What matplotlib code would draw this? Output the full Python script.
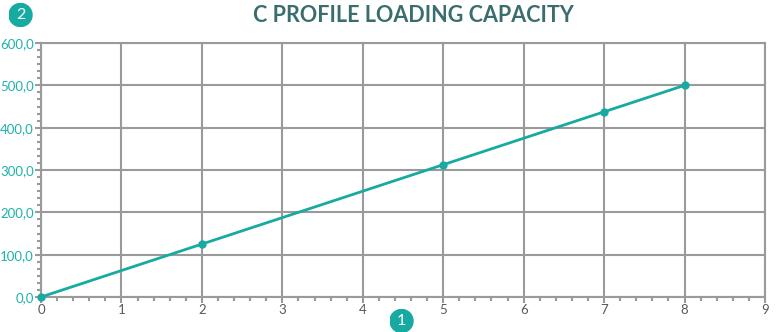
import matplotlib
matplotlib.use("Agg")
import matplotlib.pyplot as plt
from matplotlib.ticker import MultipleLocator, AutoMinorLocator, FuncFormatter

x_vals = [0, 2, 5, 7, 8]
y_vals = [0, 125, 312.5, 437.5, 500]
title = "C PROFILE LOADING CAPACITY"

teal = "#17aaa2"
grid_c = "#9a9a9a"

plt.rcParams['font.family'] = ['Lato', 'DejaVu Sans']
fig = plt.figure(figsize=(7.81, 3.32), dpi=100)
ax = fig.add_axes([41/781, 35/332, (765-41)/781, (297-43)/332])
ax.plot(x_vals, y_vals, color=teal, lw=2, marker='o', ms=5, zorder=5, clip_on=False)
ax.set_xlim(0, 9)
ax.set_ylim(0, 600)
ax.xaxis.set_major_locator(MultipleLocator(1))
ax.yaxis.set_major_locator(MultipleLocator(100))
ax.xaxis.set_minor_locator(AutoMinorLocator(5))
ax.yaxis.set_minor_locator(AutoMinorLocator(6))
ax.yaxis.set_major_formatter(FuncFormatter(lambda v, p: f"{v:.1f}".replace('.', ',')))
ax.grid(True, which='major', color=grid_c, lw=1.5)
for s in ax.spines.values():
    s.set_color(grid_c)
    s.set_linewidth(1.5)
ax.tick_params(axis='x', which='major', length=4, width=1.5, color=grid_c, labelcolor='#595959', labelsize=9.5, pad=1)
ax.tick_params(axis='y', which='major', length=4, width=1.5, color=grid_c, labelcolor='#1db3ab', labelsize=9.5, pad=1)
ax.tick_params(which='minor', length=3, width=1.5, color=grid_c)
ax.set_axisbelow(True)

fig.text(413/781, 1 - 16/332, title, ha='center', va='center', fontsize=15.5, fontweight='bold', color='#3a6d6d')

for (bx, by, t) in [(20.5, 15, "2"), (401.5, 321, "1")]:
    axb = fig.add_axes([(bx-12)/781, 1-(by+12)/332, 24/781, 24/332])
    axb.set_xlim(-1, 1); axb.set_ylim(-1, 1); axb.set_aspect('equal'); axb.axis('off')
    axb.add_patch(matplotlib.patches.Circle((0, 0), 0.96, color=teal))
    axb.text(0, -0.02, t, ha='center', va='center', color='white', fontsize=11.5)

fig.savefig("out.png", dpi=100)
